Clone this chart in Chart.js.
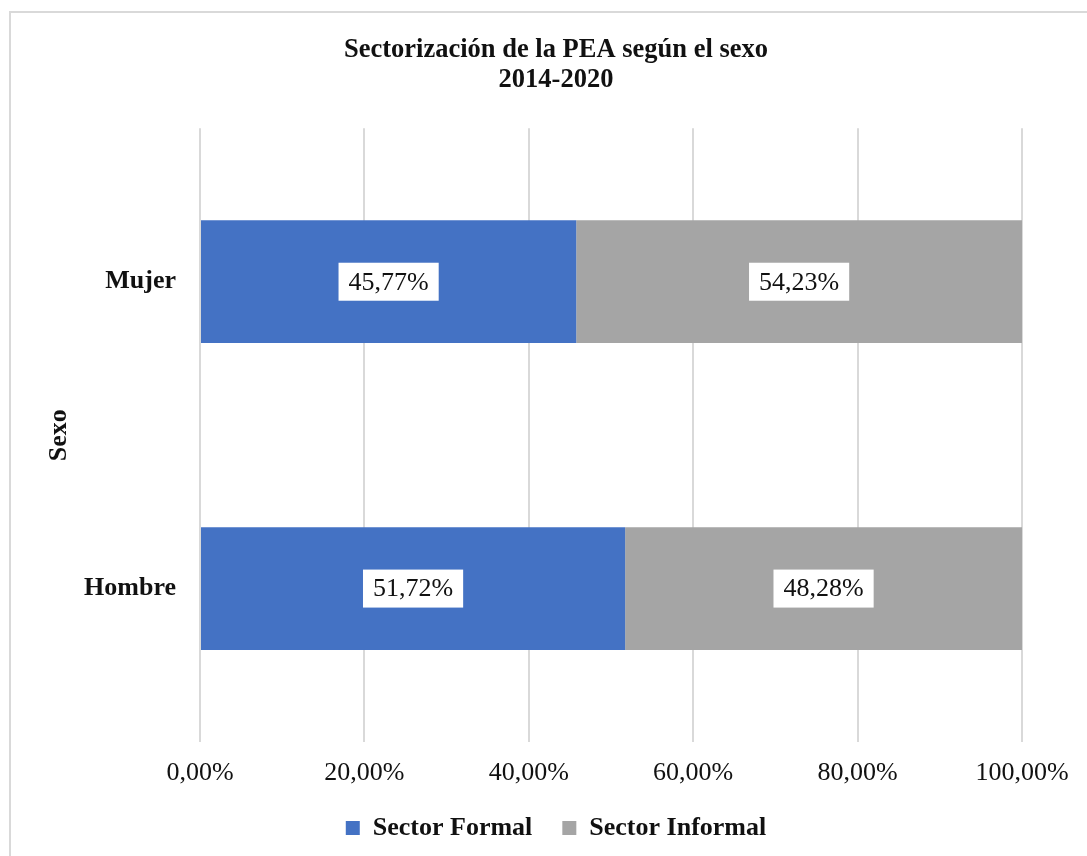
<!DOCTYPE html>
<html>
<head>
<meta charset="utf-8">
<script src="https://cdn.jsdelivr.net/npm/chart.js@4"></script>
<style>
    html, body { margin: 0; padding: 0; background: #fff; }
    #wrap { width: 1087px; height: 856px; }
</style>
</head>
<body>
<div id="wrap"><canvas id="sexo-chart"></canvas></div>
<script>
const SEXOS = ["Mujer", "Hombre"];
const FORMAL = [45.77, 51.72];
const INFORMAL = [54.23, 48.28];
const X_TICKS = [0, 20, 40, 60, 80, 100];

const FONT = "'Liberation Serif', 'Times New Roman', serif";

function pct(v) {
    return v.toFixed(2).replace(".", ",") + "%";
}

// marco gris y etiquetas blancas sobre las barras
const extras = {
    id: "extras",
    beforeDraw(chart) {
        const ctx = chart.ctx;
        ctx.save();
        ctx.strokeStyle = "#d9d9d9";
        ctx.lineWidth = 2;
        ctx.strokeRect(10, 12, 2000, 2000);
        ctx.restore();
    },
    afterDatasetsDraw(chart) {
        const ctx = chart.ctx;
        ctx.save();
        ctx.font = "26px " + FONT;
        ctx.textAlign = "center";
        ctx.textBaseline = "middle";
        chart.data.datasets.forEach((ds, i) => {
            chart.getDatasetMeta(i).data.forEach((bar, j) => {
                let txt = pct(ds.data[j]);
                let cx = (bar.x + bar.base) / 2;
                let w = ctx.measureText(txt).width + 20;
                ctx.fillStyle = "#fff";
                ctx.fillRect(cx - w / 2, bar.y - 19, w, 38);
                ctx.fillStyle = "#111";
                ctx.fillText(txt, cx, bar.y + 1);
            });
        });
        ctx.restore();
    }
};

function initChart() {
    const ctx = document.getElementById("sexo-chart");
    const config = {
        type: "bar",
        data: {
            labels: SEXOS,
            datasets: [{
                label: "Sector Formal",
                data: FORMAL,
                backgroundColor: "#4472C4"
            }, {
                label: "Sector Informal",
                data: INFORMAL,
                backgroundColor: "#A5A5A5"
            }]
        },
        options: {
            indexAxis: "y",
            responsive: true,
            maintainAspectRatio: false,
            animation: false,
            layout: { padding: { left: 25, right: 0, top: 0, bottom: 5 } },
            datasets: { bar: { barPercentage: 0.4, categoryPercentage: 1 } },
            scales: {
                x: {
                    stacked: true,
                    min: 0,
                    max: 100,
                    afterBuildTicks: s => { s.ticks = X_TICKS.map(v => ({ value: v })); },
                    afterFit: s => { s.height = 43; },
                    grid: { color: "#d9d9d9", lineWidth: 2, drawTicks: false },
                    border: { display: false },
                    ticks: {
                        padding: 16,
                        color: "#111",
                        font: { family: FONT, size: 26 },
                        callback: v => pct(v)
                    }
                },
                y: {
                    stacked: true,
                    afterFit: s => { s.width = 175; },
                    grid: { display: false, drawTicks: false },
                    border: { display: false },
                    ticks: {
                        padding: 24,
                        color: "#111",
                        font: { family: FONT, size: 26, weight: "bold" }
                    },
                    title: {
                        display: true,
                        text: "Sexo",
                        color: "#111",
                        padding: { top: 19, bottom: 0 },
                        font: { family: FONT, size: 26, weight: "bold" }
                    }
                },
                // margen derecho vacío
                margen: {
                    type: "linear",
                    axis: "y",
                    position: "right",
                    afterFit: s => { s.width = 65; },
                    grid: { display: false, drawTicks: false },
                    border: { display: false },
                    ticks: { display: false }
                }
            },
            plugins: {
                title: {
                    display: true,
                    text: ["Sectorización de la PEA según el sexo", "2014-2020"],
                    color: "#111",
                    padding: { top: 36, bottom: 34 },
                    font: { family: FONT, size: 26.5, weight: "bold", lineHeight: 1.1 }
                },
                legend: {
                    position: "bottom",
                    labels: {
                        boxWidth: 14,
                        boxHeight: 14,
                        padding: 30,
                        color: "#111",
                        font: { family: FONT, size: 26, weight: "bold" }
                    }
                },
                tooltip: { enabled: false }
            }
        },
        plugins: [extras]
    };
    new Chart(ctx, config);
}

initChart();
</script>
</body>
</html>
